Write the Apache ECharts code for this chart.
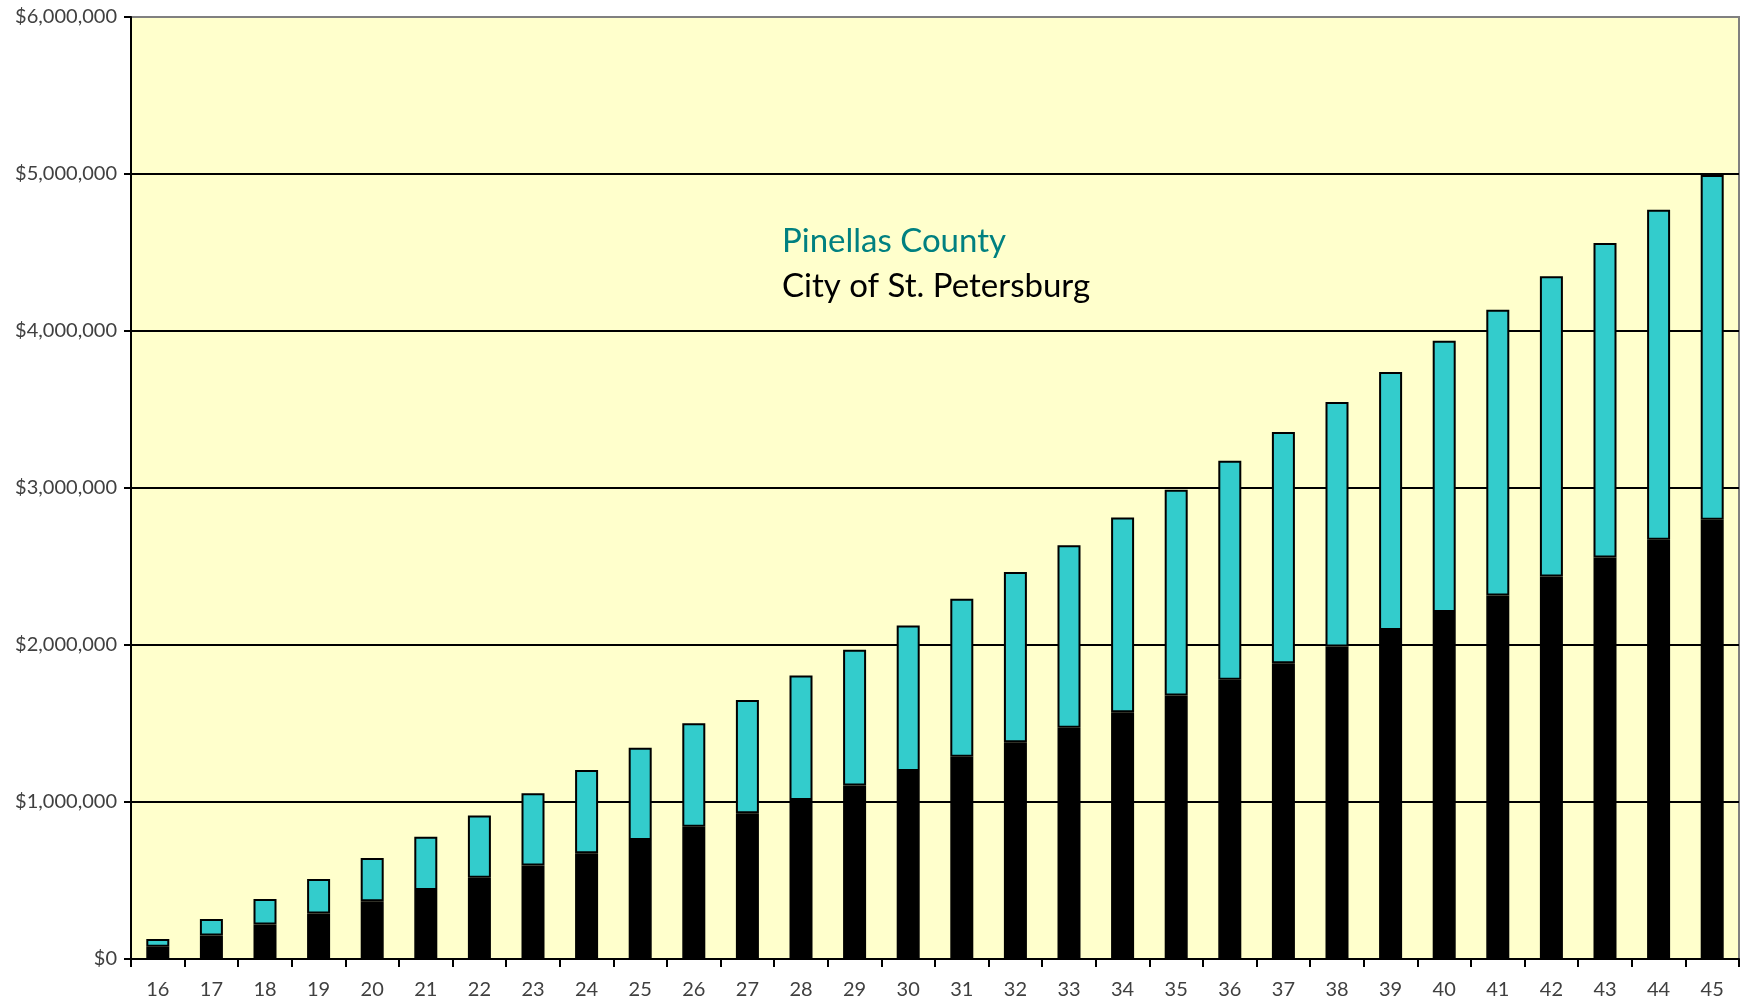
<!DOCTYPE html>
<html>
<head>
<meta charset="utf-8">
<style>
  html, body { margin: 0; padding: 0; background: #fff; }
  #main { width: 1747px; height: 1007px; }
</style>
<script src="https://cdn.jsdelivr.net/npm/echarts@6/dist/echarts.min.js"></script>
</head>
<body>
<div id="main"></div>
<script>
// categories along the bottom
const years = ['16','17','18','19','20','21','22','23','24','25','26','27','28','29','30',
               '31','32','33','34','35','36','37','38','39','40','41','42','43','44','45'];

// City of St. Petersburg (black, lower part of the stack)
const cityValues = [78000, 149000, 220000, 290000, 368000, 440000, 517000, 595000, 673000, 758000,
                    843000, 928000, 1013000, 1105000, 1197000, 1289000, 1381000, 1473000, 1572000, 1678000,
                    1778000, 1884000, 1990000, 2096000, 2210000, 2316000, 2436000, 2557000, 2670000, 2797000];

// Pinellas County total (top of the cyan part)
const totalValues = [127000, 255000, 382000, 510000, 644000, 779000, 914000, 1055000, 1204000, 1346000,
                     1501000, 1650000, 1806000, 1969000, 2125000, 2295000, 2465000, 2635000, 2812000, 2989000,
                     3173000, 3357000, 3548000, 3739000, 3938000, 4136000, 4348000, 4561000, 4773000, 4993000];

const countyValues = totalValues.map((t, i) => t - cityValues[i]);

const font = 'Lato, "Open Sans", sans-serif';

const chart = echarts.init(document.getElementById('main'));

chart.setOption({
  animation: false,
  backgroundColor: '#ffffff',
  grid: {
    left: 131, right: 8, top: 17, bottom: 48,
    show: true,
    backgroundColor: '#FFFFCC',
    borderColor: '#808080',
    borderWidth: 2
  },
  legend: {
    left: 772, top: 220,
    orient: 'vertical',
    icon: 'none',
    itemWidth: 0,
    itemGap: 12,
    selectedMode: false,
    data: [
      { name: 'Pinellas County', textStyle: { color: '#008080' } },
      { name: 'City of St. Petersburg', textStyle: { color: '#000000' } }
    ],
    textStyle: { fontFamily: font, fontSize: 33 }
  },
  xAxis: {
    type: 'category',
    data: years,
    axisLine: { lineStyle: { color: '#000', width: 2 } },
    axisTick: { show: true, length: 8, lineStyle: { color: '#000', width: 2 } },
    axisLabel: { color: '#404040', fontFamily: font, fontSize: 20, margin: 21 }
  },
  yAxis: {
    type: 'value',
    min: 0, max: 6000000, interval: 1000000,
    axisLine: { show: true, lineStyle: { color: '#000', width: 2 } },
    axisTick: { show: true, length: 7, lineStyle: { color: '#000', width: 2 } },
    axisLabel: {
      color: '#404040', fontFamily: font, fontSize: 20, margin: 14,
      formatter: v => '$' + v.toLocaleString('en-US')
    },
    splitLine: { show: true, showMaxLine: false, lineStyle: { color: '#000', width: 2 } }
  },
  series: [
    {
      name: 'City of St. Petersburg',
      type: 'bar',
      stack: 'total',
      barWidth: 23,
      data: cityValues,
      itemStyle: { color: '#000000', borderColor: '#000', borderWidth: 1.5 }
    },
    {
      name: 'Pinellas County',
      type: 'bar',
      stack: 'total',
      barWidth: 23,
      data: countyValues,
      itemStyle: { color: '#33CCCC', borderColor: '#000', borderWidth: 2 }
    }
  ]
});
</script>
</body>
</html>
